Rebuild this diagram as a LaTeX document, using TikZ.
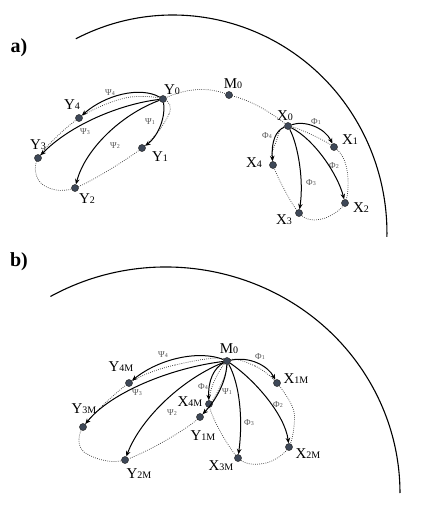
\documentclass[tikz,border=0pt]{standalone}
\usepackage{fontspec}
\setmainfont{Liberation Serif}
\usetikzlibrary{arrows.meta,backgrounds}
\definecolor{dotc}{RGB}{62,72,88}
\definecolor{lblc}{RGB}{85,85,85}
\newcommand\lb[2]{#1{\fontsize{10}{10}\selectfont #2}}
\newcommand\gl[2]{#1{\fontsize{6}{6}\selectfont #2}}
\begin{document}
\begin{tikzpicture}[x=1pt,y=-1pt,
  pt/.style={circle,inner sep=0pt,minimum size=7pt,fill=dotc,draw=black!85,line width=0.5pt},
  lab/.style={inner sep=0pt,font=\fontsize{15}{15}\selectfont},
  glab/.style={inner sep=0pt,text=lblc,font=\fontsize{9}{9}\selectfont},
  arr/.style={line width=1pt,-{Stealth[length=5.5pt,width=4.5pt]}},
  dots/.style={draw=black!75,line width=0.7pt,dash pattern=on 0.8pt off 1.3pt},
  bound/.style={line width=1.1pt},
  panel/.style={inner sep=0pt,font=\fontsize{20}{20}\selectfont\bfseries}]
\useasboundingbox (0,0) rectangle (431,515);

% ---------- panel a ----------
\node[panel] (pa) at (19,48) {a)};
\draw[bound] (75.8,38.8) arc[start angle=-117, end angle=1, x radius=214, y radius=218];

\node[pt] (Y0) at (163,99) {};
\node[pt] (Y1) at (142,148) {};
\node[pt] (Y2) at (75,188) {};
\node[pt] (Y3) at (38,158) {};
\node[pt] (Y4) at (79,118) {};
\node[pt] (M0) at (229,95) {};
\node[pt] (X0) at (288,126) {};
\node[pt] (X1) at (334,147) {};
\node[pt] (X2) at (345,203) {};
\node[pt] (X3) at (299,213) {};
\node[pt] (X4) at (273,165) {};

\node[lab] (lY0) at (172,90) {\lb{Y}{0}};
\node[lab] (lY1) at (160,157) {\lb{Y}{1}};
\node[lab] (lY2) at (87,199) {\lb{Y}{2}};
\node[lab] (lY3) at (38,145) {\lb{Y}{3}};
\node[lab] (lY4) at (72,105) {\lb{Y}{4}};
\node[lab] (lM0) at (233,84) {\lb{M}{0}};
\node[lab] (lX0) at (285,116) {\lb{X}{0}};
\node[lab] (lX1) at (350,140) {\lb{X}{1}};
\node[lab] (lX2) at (361,208) {\lb{X}{2}};
\node[lab] (lX3) at (284,220) {\lb{X}{3}};
\node[lab] (lX4) at (254,163) {\lb{X}{4}};

\node[glab] (pY1) at (150,122) {\gl{Ψ}{1}};
\node[glab] (pY2) at (115,146) {\gl{Ψ}{2}};
\node[glab] (pY3) at (85,132) {\gl{Ψ}{3}};
\node[glab] (pY4) at (110,93) {\gl{Ψ}{4}};
\node[glab] (pX1) at (316,122) {\gl{Φ}{1}};
\node[glab] (pX2) at (334,166) {\gl{Φ}{2}};
\node[glab] (pX3) at (311,183) {\gl{Φ}{3}};
\node[glab] (pX4) at (267,136) {\gl{Φ}{4}};

\begin{scope}[on background layer]
\draw[dots] (Y0.center) .. controls (190,86) and (212,88) .. (M0.center) .. controls (250,100) and (268,110) .. (X0.center);
\draw[dots] plot[smooth cycle, tension=0.55] coordinates {(Y0.center) (169,114) (Y1.center) (Y2.center) (42,184) (Y3.center) (Y4.center) (125,98)};
\draw[dots] plot[smooth cycle, tension=0.55] coordinates {(X0.center) (X1.center) (347,170) (X2.center) (322,219) (X3.center) (X4.center) (276,142)};
\end{scope}

\draw[arr] (Y0) .. controls (140,86) and (105,95) .. (Y4);
\draw[arr] (Y0) .. controls (120,104) and (70,125) .. (Y3);
\draw[arr] (Y0) .. controls (120,115) and (85,150) .. (Y2);
\draw[arr] (Y0) .. controls (166,120) and (156,138) .. (Y1);
\draw[arr] (X0) .. controls (305,120) and (325,128) .. (X1);
\draw[arr] (X0) .. controls (315,140) and (338,175) .. (X2);
\draw[arr] (X0) .. controls (298,145) and (304,180) .. (X3);
\draw[arr] (X0) .. controls (276,130) and (271,142) .. (X4);

% ---------- panel b ----------
\node[panel] (pb) at (19,262) {b)};
\draw[bound] (50.4,296.5) arc[start angle=-119.6, end angle=0, x radius=234, y radius=226];

\node[pt] (N0) at (227,361) {};
\node[pt] (X1M) at (277,383) {};
\node[pt] (X2M) at (289,447) {};
\node[pt] (X3M) at (238,458) {};
\node[pt] (X4M) at (209,404) {};
\node[pt] (Y1M) at (200,417) {};
\node[pt] (Y2M) at (125,460) {};
\node[pt] (Y3M) at (83,427) {};
\node[pt] (Y4M) at (129,383) {};

\node[lab] (lN0) at (229,349) {\lb{M}{0}};
\node[lab] (lX1M) at (296,379) {\lb{X}{1M}};
\node[lab] (lX2M) at (308,454) {\lb{X}{2M}};
\node[lab] (lX3M) at (221,466) {\lb{X}{3M}};
\node[lab] (lX4M) at (190,402) {\lb{X}{4M}};
\node[lab] (lY1M) at (203,436) {\lb{Y}{1M}};
\node[lab] (lY2M) at (139,474) {\lb{Y}{2M}};
\node[lab] (lY3M) at (84,409) {\lb{Y}{3M}};
\node[lab] (lY4M) at (121,367) {\lb{Y}{4M}};

\node[glab] (qY1) at (227,392) {\gl{Ψ}{1}};
\node[glab] (qY2) at (172,413) {\gl{Ψ}{2}};
\node[glab] (qY3) at (137,393) {\gl{Ψ}{3}};
\node[glab] (qY4) at (163,355) {\gl{Ψ}{4}};
\node[glab] (qX1) at (260,357) {\gl{Φ}{1}};
\node[glab] (qX2) at (278,405) {\gl{Φ}{2}};
\node[glab] (qX3) at (249,423) {\gl{Φ}{3}};
\node[glab] (qX4) at (203,387) {\gl{Φ}{4}};

\begin{scope}[on background layer]
\draw[dots] plot[smooth cycle, tension=0.5] coordinates {(N0.center) (175,365) (Y4M.center) (Y3M.center) (84,452) (Y2M.center) (Y1M.center)};
\draw[dots] plot[smooth cycle, tension=0.5] coordinates {(N0.center) (255,366) (X1M.center) (294,412) (X2M.center) (266,463) (X3M.center) (X4M.center)};
\end{scope}

\draw[arr] (N0) .. controls (200,350) and (160,358) .. (Y4M);
\draw[arr] (N0) .. controls (170,368) and (110,393) .. (Y3M);
\draw[arr] (N0) .. controls (180,380) and (140,420) .. (Y2M);
\draw[arr] (N0) .. controls (226,382) and (216,400) .. (Y1M);
\draw[arr] (N0) .. controls (214,368) and (208,380) .. (X4M);
\draw[arr] (N0) .. controls (250,356) and (268,366) .. (X1M);
\draw[arr] (N0) .. controls (240,385) and (243,420) .. (X3M);
\draw[arr] (N0) .. controls (255,380) and (285,415) .. (X2M);
\end{tikzpicture}
\end{document}
